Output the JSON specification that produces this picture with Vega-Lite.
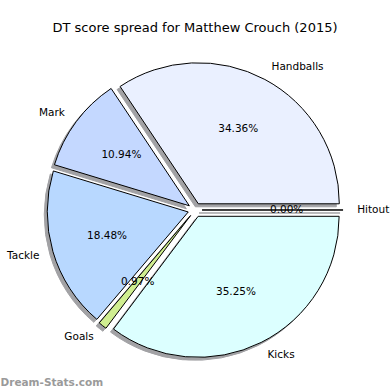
{
  "$schema": "https://vega.github.io/schema/vega-lite/v6.json",
  "width": 390,
  "height": 350,
  "autosize": {"type": "none"},
  "padding": {"top": 40, "left": 0, "right": 0, "bottom": 0},
  "background": "white",
  "title": {
    "text": "DT score spread for Matthew Crouch (2015)",
    "font": "DejaVu Sans",
    "fontSize": 13,
    "fontWeight": "normal",
    "color": "black",
    "anchor": "middle",
    "offset": 5
  },
  "config": {"view": {"stroke": null}, "font": "DejaVu Sans"},
  "data": {
    "values": [
      {"category": "Handballs", "pct": 34.36, "order": 1},
      {"category": "Mark", "pct": 10.94, "order": 2},
      {"category": "Tackle", "pct": 18.48, "order": 3},
      {"category": "Goals", "pct": 0.97, "order": 4},
      {"category": "Kicks", "pct": 35.25, "order": 5},
      {"category": "Hitout", "pct": 0.0, "order": 6}
    ]
  },
  "transform": [
    {"window": [{"op": "sum", "field": "pct", "as": "cum"}], "sort": [{"field": "order"}], "frame": [null, 0]},
    {"calculate": "datum.cum - datum.pct", "as": "start"},
    {"calculate": "(datum.cum - datum.pct / 2) / 100 * 2 * PI", "as": "m"},
    {"calculate": "0.05 * cos(datum.m)", "as": "cx"},
    {"calculate": "0.05 * sin(datum.m)", "as": "cy"},
    {"calculate": "datum.cx + 1.1 * cos(datum.m)", "as": "lx"},
    {"calculate": "datum.cy + 1.1 * sin(datum.m)", "as": "ly"},
    {"calculate": "datum.cx + 0.6 * cos(datum.m)", "as": "px"},
    {"calculate": "datum.cy + 0.6 * sin(datum.m)", "as": "py"},
    {"calculate": "format(datum.pct, '.2f') + '%'", "as": "pctLabel"}
  ],
  "layer": [
    {
      "mark": {"type": "arc", "outerRadius": 141, "fill": "#a2a2a5", "stroke": "#a2a2a5", "strokeWidth": 1, "xOffset": -3, "yOffset": 3},
      "encoding": {
        "x": {"field": "cx", "type": "quantitative", "scale": {"domain": [-1.38298, 1.38298], "nice": false, "zero": false},
              "axis": {"domain": false, "ticks": false, "labels": false, "grid": false, "title": "Dream-Stats.com",
                       "titleX": 0, "titleY": -3, "titleAlign": "left", "titleAnchor": "start", "titleBaseline": "bottom",
                       "titleColor": "#9a9a9a", "titleFontSize": 10.5, "titleFontWeight": "bold", "titleFont": "DejaVu Sans"}},
        "y": {"field": "cy", "type": "quantitative", "scale": {"domain": [-1.27660, 1.20567], "nice": false, "zero": false}, "axis": null},
        "theta": {"field": "start", "type": "quantitative", "stack": null, "scale": {"domain": [0, 100], "range": [1.5707963, -4.7123890]}},
        "theta2": {"field": "cum"}
      }
    },
    {
      "mark": {"type": "arc", "outerRadius": 141, "stroke": "black", "strokeWidth": 1},
      "encoding": {
        "x": {"field": "cx", "type": "quantitative"},
        "y": {"field": "cy", "type": "quantitative"},
        "theta": {"field": "start", "type": "quantitative", "stack": null, "scale": {"domain": [0, 100], "range": [1.5707963, -4.7123890]}},
        "theta2": {"field": "cum"},
        "fill": {"field": "category", "type": "nominal", "legend": null,
                 "scale": {"domain": ["Handballs", "Mark", "Tackle", "Goals", "Kicks", "Hitout"],
                           "range": ["#eaf0ff", "#c4d8ff", "#b8d8ff", "#d0ee90", "#dcffff", "#ffffff"]}}
      }
    },
    {
      "mark": {"type": "text", "font": "DejaVu Sans", "fontSize": 10.5, "align": "center", "baseline": "middle", "color": "black"},
      "encoding": {
        "x": {"field": "px", "type": "quantitative"},
        "y": {"field": "py", "type": "quantitative"},
        "text": {"field": "pctLabel"}
      }
    },
    {
      "transform": [{"filter": "datum.lx > 0"}],
      "mark": {"type": "text", "font": "DejaVu Sans", "fontSize": 10.5, "align": "left", "baseline": "middle", "color": "black"},
      "encoding": {
        "x": {"field": "lx", "type": "quantitative"},
        "y": {"field": "ly", "type": "quantitative"},
        "text": {"field": "category"}
      }
    },
    {
      "transform": [{"filter": "datum.lx <= 0"}],
      "mark": {"type": "text", "font": "DejaVu Sans", "fontSize": 10.5, "align": "right", "baseline": "middle", "color": "black"},
      "encoding": {
        "x": {"field": "lx", "type": "quantitative"},
        "y": {"field": "ly", "type": "quantitative"},
        "text": {"field": "category"}
      }
    }
  ]
}
